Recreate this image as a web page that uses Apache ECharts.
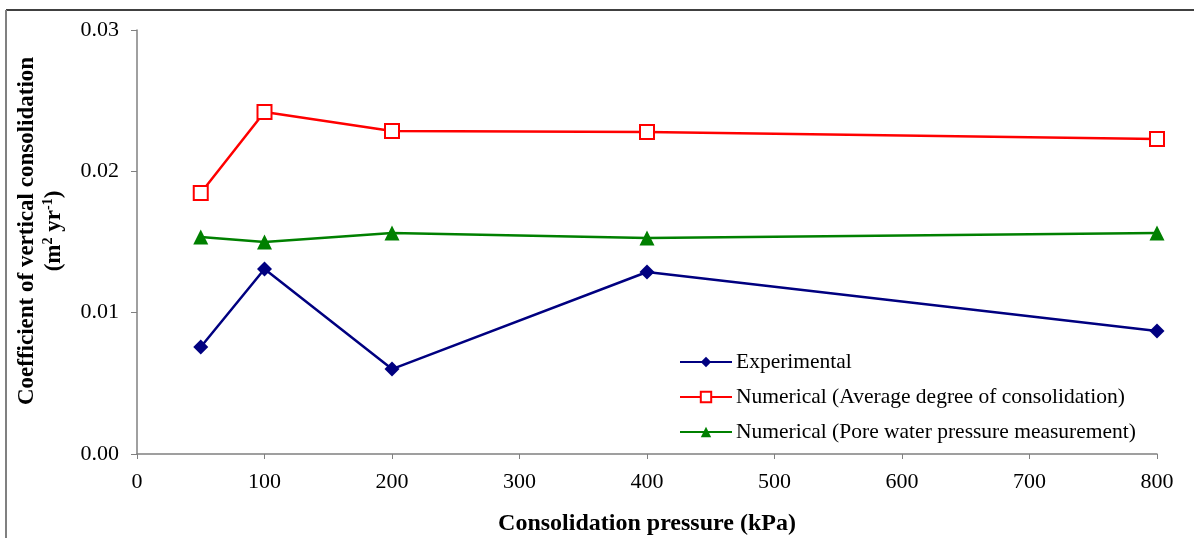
<!DOCTYPE html>
<html><head><meta charset="utf-8">
<script src="https://cdn.jsdelivr.net/npm/echarts@6/dist/echarts.min.js"></script>
<style>html,body{margin:0;padding:0;background:#fff}#c{width:1194px;height:538px}</style>
</head><body><div id="c"></div>
<script>
const pressures = [50, 100, 200, 400, 800];
const experimental = [0.00757, 0.01309, 0.00601, 0.01288, 0.0087];
const numAvg = [0.01847, 0.0242, 0.02285, 0.02278, 0.02229];
const numPore = [0.01535, 0.0150, 0.01564, 0.01528, 0.01564];
const seriesNames = ['Experimental', 'Numerical (Average degree of consolidation)', 'Numerical (Pore water pressure measurement)'];

const font = '"Liberation Serif","Times New Roman",serif';
const chart = echarts.init(document.getElementById('c'));
const pair = (ys) => pressures.map((x, i) => [x, ys[i]]);
chart.setOption({
  animation: false,
  textStyle: { fontFamily: font },
  graphic: [
    { type: 'line', shape: { x1: 6, y1: 10, x2: 1194, y2: 10 }, style: { stroke: '#000', lineWidth: 1.5 } },
    { type: 'line', shape: { x1: 6, y1: 10, x2: 6, y2: 538 }, style: { stroke: '#808080', lineWidth: 2 } }
  ],
  grid: { left: 137, right: 37, top: 30, bottom: 84, containLabel: false, outerBoundsMode: 'none' },
  legend: {
    orient: 'vertical', left: 674, top: 346, itemGap: 13, itemWidth: 52, itemHeight: 13,
    textStyle: { fontFamily: font, fontSize: 21.5, color: '#000', padding: [0, 0, 0, -1] },
    data: seriesNames
  },
  xAxis: {
    type: 'value', min: 0, max: 800, interval: 100,
    name: 'Consolidation pressure (kPa)', nameLocation: 'middle', nameGap: 58,
    nameTextStyle: { fontFamily: font, fontSize: 24, fontWeight: 'bold', color: '#000' },
    axisLine: { show: true, lineStyle: { color: '#808080', width: 1.5 } },
    axisTick: { show: true, length: 5, lineStyle: { color: '#808080' } },
    axisLabel: { fontFamily: font, fontSize: 22, color: '#000', margin: 17 },
    splitLine: { show: false }
  },
  yAxis: {
    type: 'value', min: 0, max: 0.03, interval: 0.01,
    name: '{b|Coefficient of vertical consolidation}\n{b|(m}{s|2}{b| yr}{s|-1}{b|)}',
    nameLocation: 'middle', nameGap: 69, nameRotate: 90,
    nameTextStyle: {
      fontFamily: font, color: '#000', lineHeight: 27, padding: [0, 0, 0, 22],
      rich: {
        b: { fontFamily: font, fontSize: 23, fontWeight: 'bold', color: '#000', lineHeight: 27 },
        s: { fontFamily: font, fontSize: 14, fontWeight: 'bold', color: '#000', verticalAlign: 'top', lineHeight: 27, padding: [0, 0, 9, 0] }
      }
    },
    axisLine: { show: true, lineStyle: { color: '#808080', width: 1.5 } },
    axisTick: { show: true, length: 6, lineStyle: { color: '#808080' } },
    axisLabel: { fontFamily: font, fontSize: 22, color: '#000', margin: 18, formatter: v => v.toFixed(2) },
    splitLine: { show: false }
  },
  series: [
    { name: seriesNames[0], type: 'line', data: pair(experimental), symbol: 'diamond', symbolSize: 15,
      lineStyle: { color: '#000080', width: 2.5 }, itemStyle: { color: '#000080' } },
    { name: seriesNames[1], type: 'line', data: pair(numAvg), symbol: 'rect', symbolSize: 14,
      lineStyle: { color: '#ff0000', width: 2.5 }, itemStyle: { color: '#fff', borderColor: '#ff0000', borderWidth: 2 } },
    { name: seriesNames[2], type: 'line', data: pair(numPore), symbol: 'triangle', symbolSize: 15,
      lineStyle: { color: '#008000', width: 2.5 }, itemStyle: { color: '#008000' } }
  ]
});
</script></body></html>
